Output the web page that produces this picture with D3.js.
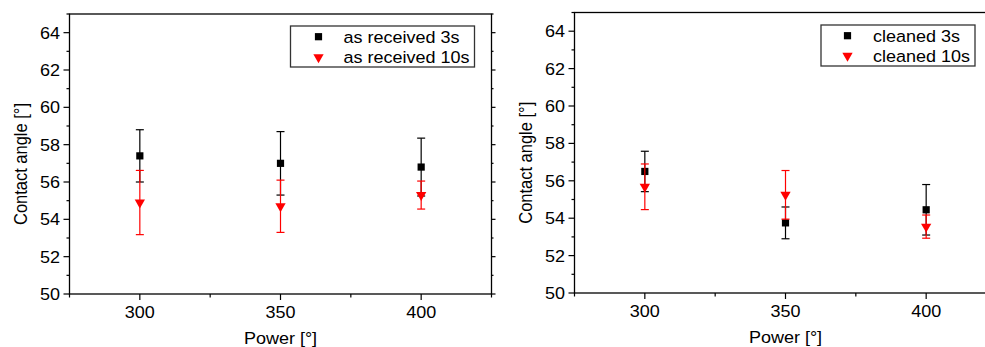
<!DOCTYPE html>
<html>
<head>
<meta charset="utf-8">
<script src="https://cdn.jsdelivr.net/npm/d3@7"></script>
<style>
  html, body { margin: 0; padding: 0; background: #fff; }
  svg { display: block; font-family: "Liberation Sans", Arial, sans-serif; }
</style>
</head>
<body>
<svg id="chart" width="985" height="347"></svg>
<script>
// Two Origin-style panels: contact angle vs plasma power, with error bars.
// Values.

const powers = [300, 350, 400];

const asReceived3s = [57.4, 57.0, 56.8];
const asReceived3sErr = [1.4, 1.7, 1.55];
const asReceived10s = [54.9, 54.7, 55.3];
const asReceived10sErr = [1.72, 1.4, 0.75];

const cleaned3s = [56.5, 53.75, 54.45];
const cleaned3sErr = [1.08, 0.85, 1.35];
const cleaned10s = [55.68, 55.25, 53.55];
const cleaned10sErr = [1.22, 1.3, 0.62];

const xDomain = [275, 425];
const yDomain = [50, 65];
const xTicks = [300, 350, 400];
const xMinor = [275, 325, 375, 425];
const yTicks = [50, 52, 54, 56, 58, 60, 62, 64];
const yMinor = [51, 53, 55, 57, 59, 61, 63, 65];

const xTitle = 'Power [°]';
const yTitle = 'Contact angle [°]';

const FONT = 17;
const TITLE_Y_FONT = 16.5;
const STRETCH = 1.06;   // the source picture is a bit wider than tall

const panels = [
    {
        left: 69.5, right: 491.5, top: 14, bottom: 294,
        legend: { x: 290.5, y: 26, w: 184, h: 41, markX: 318.5, textX: 343.5, rows: [36.7, 57.3] },
        series: [
            { name: 'as received 3s', values: asReceived3s, err: asReceived3sErr, color: '#000', shape: 'square' },
            { name: 'as received 10s', values: asReceived10s, err: asReceived10sErr, color: '#ff0000', shape: 'tri' },
        ],
    },
    {
        left: 574.5, right: 996.5, top: 12.5, bottom: 293,
        legend: { x: 821, y: 25, w: 154, h: 41, markX: 847.5, textX: 873, rows: [35.7, 55.7] },
        series: [
            { name: 'cleaned 3s', values: cleaned3s, err: cleaned3sErr, color: '#000', shape: 'square' },
            { name: 'cleaned 10s', values: cleaned10s, err: cleaned10sErr, color: '#ff0000', shape: 'tri' },
        ],
    },
];

const svg = d3.select('#chart');

function hText(g, x, y, str, anchor) {
    return g.append('text')
        .attr('transform', `translate(${x},${y}) scale(${STRETCH},1)`)
        .attr('text-anchor', anchor)
        .attr('font-size', FONT)
        .attr('fill', '#000')
        .text(str);
}

function drawMarker(g, shape, cx, cy, color) {
    if (shape === 'square') {
        g.append('rect')
            .attr('x', cx - 3.6).attr('y', cy - 3.6)
            .attr('width', 7.2).attr('height', 7.2)
            .attr('fill', color);
    } else {
        g.append('path')
            .attr('d', d3.symbol(d3.symbolTriangle, 46)())
            .attr('transform', `translate(${cx},${cy}) rotate(180)`)
            .attr('fill', color);
    }
}

panels.forEach((p) => {
    const g = svg.append('g');
    const x = d3.scaleLinear().domain(xDomain).range([p.left, p.right]);
    const y = d3.scaleLinear().domain(yDomain).range([p.bottom, p.top]);

    // frame
    g.append('rect')
        .attr('x', p.left).attr('y', p.top)
        .attr('width', p.right - p.left).attr('height', p.bottom - p.top)
        .attr('fill', 'none').attr('stroke', '#000').attr('stroke-width', 1.3);

    // left axis ticks + labels, mirrored small ticks on the right
    const ticks = g.append('g').attr('stroke', '#000').attr('stroke-width', 1.2);
    yTicks.forEach((v) => {
        ticks.append('line').attr('x1', p.left - 6).attr('x2', p.left).attr('y1', y(v)).attr('y2', y(v));
        ticks.append('line').attr('x1', p.right).attr('x2', p.right + 4).attr('y1', y(v)).attr('y2', y(v));
        hText(g, p.left - 9.5, y(v) + 6, v, 'end');
    });
    yMinor.forEach((v) => {
        ticks.append('line').attr('x1', p.left - 3).attr('x2', p.left).attr('y1', y(v)).attr('y2', y(v));
        ticks.append('line').attr('x1', p.right).attr('x2', p.right + 2).attr('y1', y(v)).attr('y2', y(v));
    });

    // bottom axis ticks + labels
    xTicks.forEach((v) => {
        ticks.append('line').attr('x1', x(v)).attr('x2', x(v)).attr('y1', p.bottom).attr('y2', p.bottom + 6);
        hText(g, x(v), p.bottom + 23.5, v, 'middle');
    });
    xMinor.forEach((v) => {
        ticks.append('line').attr('x1', x(v)).attr('x2', x(v)).attr('y1', p.bottom).attr('y2', p.bottom + 3.5);
    });

    // axis titles
    hText(g, x(350), p.bottom + 49.5, xTitle, 'middle');
    g.append('text')
        .attr('transform', `translate(${p.left - 42.5},${(p.top + p.bottom) / 2 + 10}) rotate(-90) scale(1,${STRETCH + 0.06})`)
        .attr('text-anchor', 'middle')
        .attr('font-size', TITLE_Y_FONT)
        .attr('fill', '#000')
        .text(yTitle);

    // error bars + markers
    p.series.forEach((s) => {
        const sg = g.append('g');
        powers.forEach((pw, i) => {
            const cx = x(pw);
            const hi = y(s.values[i] + s.err[i]);
            const lo = y(s.values[i] - s.err[i]);
            sg.append('line').attr('x1', cx).attr('x2', cx).attr('y1', hi).attr('y2', lo)
                .attr('stroke', s.color).attr('stroke-width', 1.2);
            [hi, lo].forEach((yy) => {
                sg.append('line').attr('x1', cx - 4).attr('x2', cx + 4).attr('y1', yy).attr('y2', yy)
                    .attr('stroke', s.color).attr('stroke-width', 1.2);
            });
            drawMarker(sg, s.shape, cx, y(s.values[i]), s.color);
        });
    });

    // legend
    const L = p.legend;
    const lg = g.append('g');
    lg.append('rect')
        .attr('x', L.x).attr('y', L.y).attr('width', L.w).attr('height', L.h)
        .attr('fill', '#fff').attr('stroke', '#333').attr('stroke-width', 1.3);
    p.series.forEach((s, i) => {
        drawMarker(lg, s.shape, L.markX, L.rows[i], s.color);
        hText(lg, L.textX, L.rows[i] + 6, s.name, 'start');
    });
});
</script>
</body>
</html>
